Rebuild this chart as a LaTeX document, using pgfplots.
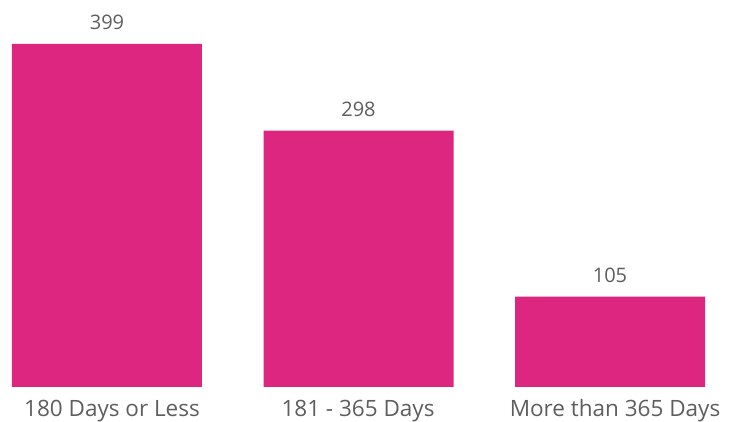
\documentclass[border=0pt]{standalone}
\usepackage{fontspec}
\setmainfont{Open Sans}
\usepackage{pgfplots}
\pgfplotsset{compat=1.18}
\definecolor{barpink}{HTML}{DC267F}
\definecolor{labelgray}{HTML}{5E5E5E}

\begin{document}
\begin{tikzpicture}
  \useasboundingbox (0,-35pt) rectangle (734pt,387pt);
  \begin{axis}[
      scale only axis,
      width=734pt, height=387pt,
      xmin=-0.4254, xmax=2.4930,
      ymin=0, ymax=450,
      axis lines=none,
      clip=false,
      xtick=\empty, ytick=\empty,
      bar width=190pt,
      nodes near coords,
      /pgf/number format/assume math mode=true,
      every node near coord/.append style={font=\fontsize{20}{24}\selectfont, text=labelgray, inner sep=0pt, yshift=14pt},
    ]
    \addplot[ybar, fill=barpink, draw=none] coordinates {(0,399) (1,298) (2,105)};
  \end{axis}
  % category names under the bars
  \foreach \x/\lab in {112/180 Days or Less, 358/181 - 365 Days, 615/More than 365 Days}
    \node[anchor=base, inner sep=0pt, text=labelgray, font=\fontsize{22.5}{26}\selectfont] at (\x pt,-30pt) {\lab};
\end{tikzpicture}
\end{document}
